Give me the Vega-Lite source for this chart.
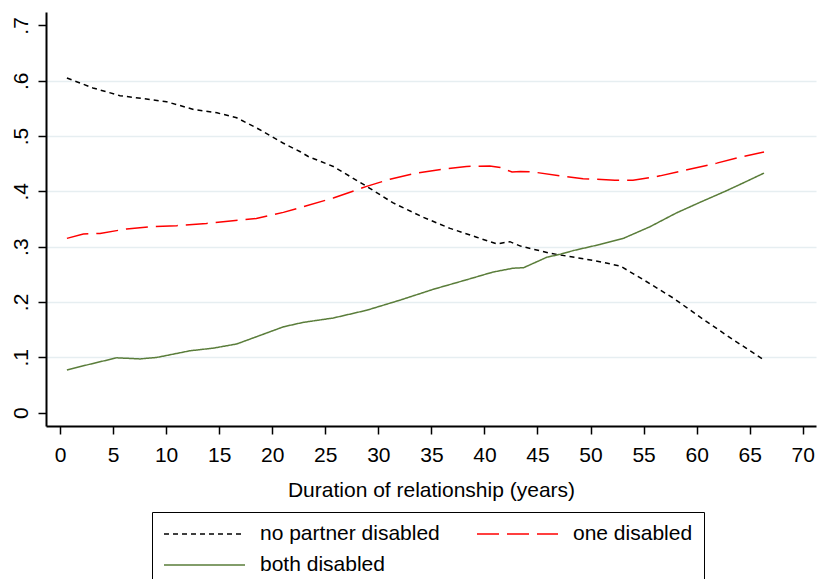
{
  "$schema": "https://vega.github.io/schema/vega-lite/v6.json",
  "width": 770,
  "height": 414,
  "autosize": {"type": "none"},
  "padding": {"left": 46, "top": 12, "right": 4, "bottom": 153},
  "background": "white",
  "config": {
    "view": {"stroke": null},
    "font": "Liberation Sans",
    "axis": {
      "labelFont": "Liberation Sans",
      "titleFont": "Liberation Sans",
      "labelColor": "black",
      "titleColor": "black",
      "domainColor": "black",
      "tickColor": "black",
      "labelFontSize": 21,
      "titleFontSize": 21,
      "titleFontWeight": "normal"
    },
    "legend": {
      "labelFont": "Liberation Sans",
      "labelFontSize": 21,
      "labelColor": "black"
    }
  },
  "data": {
    "values": [
      {"series": "no partner disabled", "x": 0.65, "y": 0.605},
      {"series": "no partner disabled", "x": 3.1, "y": 0.587},
      {"series": "no partner disabled", "x": 5.65, "y": 0.573},
      {"series": "no partner disabled", "x": 8.5, "y": 0.566},
      {"series": "no partner disabled", "x": 10.05, "y": 0.562},
      {"series": "no partner disabled", "x": 12.6, "y": 0.548},
      {"series": "no partner disabled", "x": 14.8, "y": 0.542},
      {"series": "no partner disabled", "x": 16.65, "y": 0.533},
      {"series": "no partner disabled", "x": 18.5, "y": 0.515},
      {"series": "no partner disabled", "x": 21.05, "y": 0.487},
      {"series": "no partner disabled", "x": 22.6, "y": 0.472},
      {"series": "no partner disabled", "x": 23.4, "y": 0.463},
      {"series": "no partner disabled", "x": 25.76, "y": 0.445},
      {"series": "no partner disabled", "x": 28.9, "y": 0.409},
      {"series": "no partner disabled", "x": 31.4, "y": 0.379},
      {"series": "no partner disabled", "x": 34.25, "y": 0.353},
      {"series": "no partner disabled", "x": 36.76, "y": 0.333},
      {"series": "no partner disabled", "x": 39.27, "y": 0.317},
      {"series": "no partner disabled", "x": 41.16, "y": 0.305},
      {"series": "no partner disabled", "x": 42.4, "y": 0.309},
      {"series": "no partner disabled", "x": 43.4, "y": 0.301},
      {"series": "no partner disabled", "x": 46.2, "y": 0.288},
      {"series": "no partner disabled", "x": 47.75, "y": 0.283},
      {"series": "no partner disabled", "x": 50.3, "y": 0.275},
      {"series": "no partner disabled", "x": 52.8, "y": 0.265},
      {"series": "no partner disabled", "x": 55.0, "y": 0.24},
      {"series": "no partner disabled", "x": 57.8, "y": 0.207},
      {"series": "no partner disabled", "x": 60.3, "y": 0.173},
      {"series": "no partner disabled", "x": 62.8, "y": 0.14},
      {"series": "no partner disabled", "x": 64.7, "y": 0.116},
      {"series": "no partner disabled", "x": 66.35, "y": 0.095},
      {"series": "one disabled", "x": 0.65, "y": 0.315},
      {"series": "one disabled", "x": 2.2, "y": 0.323},
      {"series": "one disabled", "x": 3.77, "y": 0.324},
      {"series": "one disabled", "x": 6.28, "y": 0.332},
      {"series": "one disabled", "x": 8.48, "y": 0.336},
      {"series": "one disabled", "x": 11.0, "y": 0.338},
      {"series": "one disabled", "x": 13.8, "y": 0.342},
      {"series": "one disabled", "x": 16.3, "y": 0.347},
      {"series": "one disabled", "x": 18.5, "y": 0.351},
      {"series": "one disabled", "x": 21.05, "y": 0.362},
      {"series": "one disabled", "x": 22.9, "y": 0.372},
      {"series": "one disabled", "x": 25.76, "y": 0.388},
      {"series": "one disabled", "x": 28.9, "y": 0.409},
      {"series": "one disabled", "x": 31.1, "y": 0.422},
      {"series": "one disabled", "x": 33.6, "y": 0.433},
      {"series": "one disabled", "x": 36.1, "y": 0.44},
      {"series": "one disabled", "x": 38.3, "y": 0.445},
      {"series": "one disabled", "x": 40.5, "y": 0.446},
      {"series": "one disabled", "x": 41.5, "y": 0.443},
      {"series": "one disabled", "x": 42.6, "y": 0.435},
      {"series": "one disabled", "x": 43.4, "y": 0.436},
      {"series": "one disabled", "x": 44.6, "y": 0.435},
      {"series": "one disabled", "x": 47.1, "y": 0.428},
      {"series": "one disabled", "x": 49.3, "y": 0.423},
      {"series": "one disabled", "x": 52.3, "y": 0.42},
      {"series": "one disabled", "x": 54.0, "y": 0.42},
      {"series": "one disabled", "x": 56.55, "y": 0.428},
      {"series": "one disabled", "x": 59.1, "y": 0.439},
      {"series": "one disabled", "x": 61.9, "y": 0.451},
      {"series": "one disabled", "x": 64.1, "y": 0.462},
      {"series": "one disabled", "x": 66.35, "y": 0.471},
      {"series": "both disabled", "x": 0.65, "y": 0.077},
      {"series": "both disabled", "x": 2.83, "y": 0.0875},
      {"series": "both disabled", "x": 5.34, "y": 0.099},
      {"series": "both disabled", "x": 7.54, "y": 0.097},
      {"series": "both disabled", "x": 9.1, "y": 0.0996},
      {"series": "both disabled", "x": 12.25, "y": 0.1117},
      {"series": "both disabled", "x": 14.45, "y": 0.1165},
      {"series": "both disabled", "x": 16.65, "y": 0.124},
      {"series": "both disabled", "x": 18.5, "y": 0.137},
      {"series": "both disabled", "x": 21.05, "y": 0.155},
      {"series": "both disabled", "x": 22.9, "y": 0.163},
      {"series": "both disabled", "x": 25.76, "y": 0.171},
      {"series": "both disabled", "x": 28.9, "y": 0.185},
      {"series": "both disabled", "x": 32.0, "y": 0.203},
      {"series": "both disabled", "x": 35.2, "y": 0.223},
      {"series": "both disabled", "x": 38.3, "y": 0.24},
      {"series": "both disabled", "x": 40.8, "y": 0.254},
      {"series": "both disabled", "x": 42.7, "y": 0.261},
      {"series": "both disabled", "x": 43.7, "y": 0.262},
      {"series": "both disabled", "x": 45.9, "y": 0.281},
      {"series": "both disabled", "x": 47.1, "y": 0.286},
      {"series": "both disabled", "x": 48.4, "y": 0.293},
      {"series": "both disabled", "x": 50.9, "y": 0.304},
      {"series": "both disabled", "x": 53.1, "y": 0.315},
      {"series": "both disabled", "x": 55.6, "y": 0.336},
      {"series": "both disabled", "x": 58.1, "y": 0.361},
      {"series": "both disabled", "x": 60.3, "y": 0.38},
      {"series": "both disabled", "x": 62.8, "y": 0.401},
      {"series": "both disabled", "x": 64.7, "y": 0.418},
      {"series": "both disabled", "x": 66.35, "y": 0.433}
    ]
  },
  "mark": {"type": "line", "strokeWidth": 1.5, "clip": true},
  "encoding": {
    "x": {
      "field": "x",
      "type": "quantitative",
      "scale": {"domain": [-1.32, 71.25], "nice": false, "zero": false},
      "axis": {
        "title": "Duration of relationship (years)",
        "values": [0, 5, 10, 15, 20, 25, 30, 35, 40, 45, 50, 55, 60, 65, 70],
        "grid": false,
        "domainWidth": 2,
        "tickWidth": 1.5,
        "tickSize": 8,
        "labelPadding": 10,
        "titlePadding": 14,
        "labelFlush": false,
        "labelOverlap": false
      }
    },
    "y": {
      "field": "y",
      "type": "quantitative",
      "scale": {"domain": [-0.0243, 0.7243], "nice": false, "zero": false},
      "axis": {
        "title": null,
        "values": [0, 0.1, 0.2, 0.3, 0.4, 0.5, 0.6, 0.7],
        "labelExpr": "datum.value == 0 ? '0' : replace(format(datum.value, '.1f'), '0.', '.')",
        "labelAngle": 270,
        "labelAlign": "center",
        "labelBaseline": "bottom",
        "labelPadding": 7,
        "domainWidth": 2,
        "tickWidth": 1.5,
        "tickSize": 8,
        "labelFlush": false,
        "labelOverlap": false,
        "grid": true,
        "gridColor": "#e6eef1",
        "gridWidth": 1.5,
        "gridOpacity": {"condition": {"test": "datum.value < 0.05 || datum.value > 0.65", "value": 0}, "value": 1}
      }
    },
    "color": {
      "field": "series",
      "type": "nominal",
      "scale": {
        "domain": ["no partner disabled", "one disabled", "both disabled"],
        "range": ["#000000", "#ff0000", "#5a7d3a"]
      },
      "legend": {
        "title": null,
        "orient": "none",
        "legendX": 106,
        "legendY": 500,
        "direction": "horizontal",
        "columns": 2,
        "symbolType": "M-1,0H7.1",
        "symbolSize": 400,
        "symbolStrokeWidth": 1.5,
        "labelOffset": 75,
        "labelLimit": 400,
        "columnPadding": 34,
        "rowPadding": 10,
        "padding": 11,
        "strokeColor": "black",
        "fillColor": "white"
      }
    },
    "strokeDash": {
      "field": "series",
      "type": "nominal",
      "scale": {
        "domain": ["no partner disabled", "one disabled", "both disabled"],
        "range": [[5, 4], [22, 8], [1, 0]]
      },
      "legend": null
    }
  }
}
